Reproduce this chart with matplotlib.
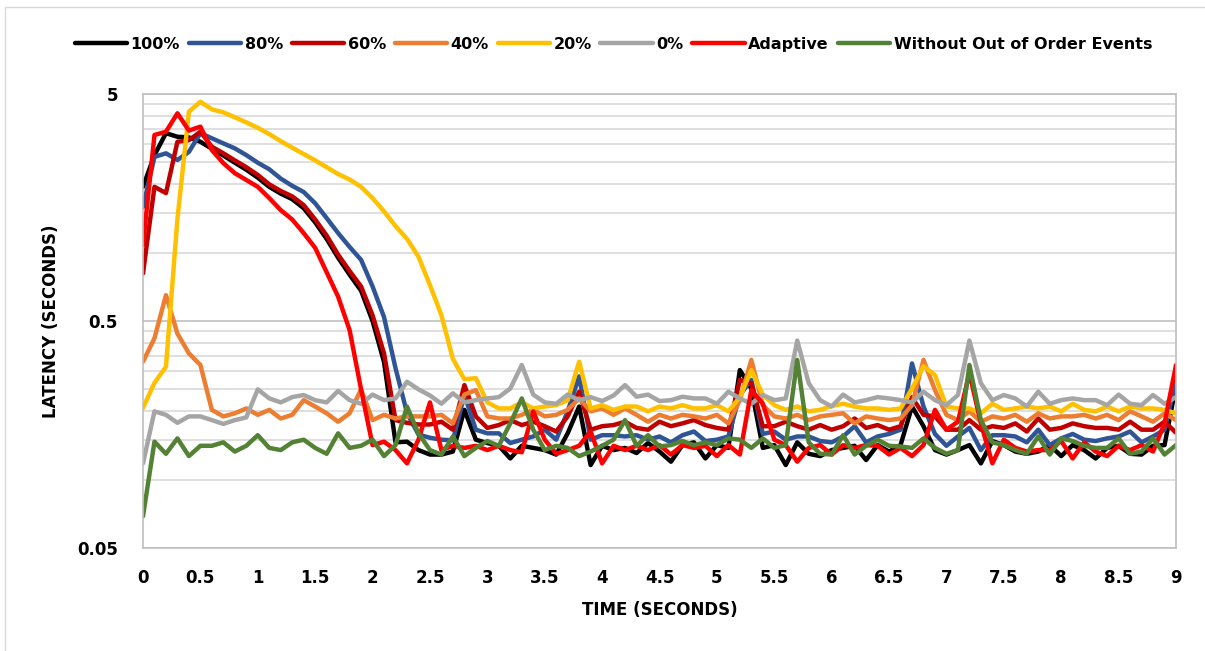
import numpy as np
import matplotlib
matplotlib.use("Agg")
import matplotlib.pyplot as plt
from matplotlib.ticker import FixedLocator, NullFormatter
from matplotlib.patches import Rectangle

plt.rcParams['font.family'] = ['Liberation Sans Narrow', 'DejaVu Sans']
plt.rcParams['font.weight'] = 'bold'

# time axis, one sample every 0.1 s
time_s = np.round(np.arange(0, 91) * 0.1, 1)

lat_100 = [1.95, 2.69, 3.36, 3.24, 3.22, 3.08, 2.87, 2.68, 2.49, 2.32, 2.14, 1.95, 1.82, 1.72, 1.57, 1.36, 1.15, 0.95, 0.8, 0.68,
           0.5, 0.33, 0.146, 0.147, 0.135, 0.129, 0.129, 0.133, 0.203, 0.15, 0.145, 0.141, 0.124, 0.141, 0.138, 0.135, 0.129, 0.16, 0.21, 0.116,
           0.141, 0.135, 0.138, 0.131, 0.145, 0.133, 0.12, 0.142, 0.146, 0.124, 0.142, 0.138, 0.304, 0.252, 0.138, 0.142, 0.116, 0.146, 0.13, 0.127,
           0.135, 0.138, 0.141, 0.122, 0.142, 0.133, 0.142, 0.21, 0.172, 0.135, 0.129, 0.135, 0.142, 0.118, 0.148, 0.142, 0.133, 0.13, 0.133, 0.142,
           0.127, 0.142, 0.135, 0.124, 0.138, 0.141, 0.13, 0.129, 0.141, 0.142, 0.26]
lat_80 = [1.59, 2.64, 2.74, 2.56, 2.78, 3.36, 3.19, 3.03, 2.88, 2.69, 2.49, 2.33, 2.12, 1.97, 1.85, 1.65, 1.42, 1.22, 1.06, 0.93,
          0.71, 0.52, 0.31, 0.197, 0.158, 0.153, 0.15, 0.149, 0.236, 0.166, 0.16, 0.16, 0.145, 0.15, 0.155, 0.166, 0.15, 0.2, 0.285, 0.15,
          0.157, 0.157, 0.155, 0.157, 0.15, 0.155, 0.146, 0.157, 0.163, 0.148, 0.15, 0.155, 0.236, 0.275, 0.159, 0.163, 0.15, 0.155, 0.155, 0.148,
          0.146, 0.155, 0.172, 0.146, 0.155, 0.159, 0.166, 0.325, 0.21, 0.159, 0.141, 0.155, 0.169, 0.135, 0.157, 0.157, 0.155, 0.146, 0.166, 0.142,
          0.152, 0.159, 0.15, 0.148, 0.152, 0.155, 0.163, 0.146, 0.155, 0.166, 0.275]
lat_60 = [0.81, 1.95, 1.83, 3.08, 3.13, 3.41, 2.93, 2.74, 2.55, 2.38, 2.2, 2.0, 1.87, 1.77, 1.62, 1.4, 1.19, 0.98, 0.83, 0.71,
          0.53, 0.36, 0.183, 0.178, 0.175, 0.175, 0.18, 0.166, 0.261, 0.19, 0.169, 0.174, 0.183, 0.174, 0.18, 0.172, 0.163, 0.19, 0.244, 0.166,
          0.172, 0.174, 0.18, 0.169, 0.166, 0.18, 0.172, 0.177, 0.183, 0.174, 0.169, 0.166, 0.275, 0.266, 0.172, 0.172, 0.18, 0.172, 0.166, 0.174,
          0.166, 0.172, 0.186, 0.169, 0.174, 0.166, 0.172, 0.231, 0.193, 0.19, 0.166, 0.166, 0.183, 0.166, 0.172, 0.169, 0.177, 0.163, 0.186, 0.166,
          0.169, 0.177, 0.172, 0.169, 0.169, 0.166, 0.18, 0.166, 0.166, 0.18, 0.161]
lat_40 = [0.331, 0.42, 0.65, 0.44, 0.36, 0.32, 0.203, 0.19, 0.196, 0.206, 0.193, 0.203, 0.186, 0.193, 0.224, 0.21, 0.196, 0.18, 0.196, 0.25,
          0.183, 0.193, 0.186, 0.19, 0.19, 0.19, 0.193, 0.177, 0.237, 0.248, 0.19, 0.186, 0.186, 0.193, 0.203, 0.19, 0.193, 0.203, 0.228, 0.2,
          0.206, 0.193, 0.206, 0.193, 0.18, 0.193, 0.186, 0.193, 0.19, 0.186, 0.193, 0.177, 0.224, 0.337, 0.213, 0.19, 0.186, 0.193, 0.183, 0.19,
          0.193, 0.196, 0.177, 0.19, 0.186, 0.183, 0.186, 0.213, 0.337, 0.248, 0.193, 0.183, 0.2, 0.18, 0.19, 0.186, 0.193, 0.18, 0.196, 0.186,
          0.19, 0.19, 0.193, 0.186, 0.193, 0.183, 0.2, 0.19, 0.18, 0.196, 0.183]
lat_20 = [0.207, 0.267, 0.314, 1.41, 4.18, 4.62, 4.28, 4.15, 3.95, 3.75, 3.55, 3.33, 3.1, 2.9, 2.72, 2.55, 2.38, 2.22, 2.1, 1.95,
          1.74, 1.52, 1.31, 1.15, 0.96, 0.72, 0.53, 0.34, 0.277, 0.28, 0.219, 0.206, 0.206, 0.219, 0.206, 0.21, 0.213, 0.224, 0.331, 0.206,
          0.213, 0.203, 0.21, 0.21, 0.2, 0.21, 0.206, 0.213, 0.206, 0.206, 0.213, 0.2, 0.231, 0.304, 0.237, 0.213, 0.203, 0.21, 0.2, 0.203,
          0.211, 0.216, 0.21, 0.206, 0.206, 0.203, 0.206, 0.252, 0.316, 0.289, 0.21, 0.206, 0.206, 0.196, 0.216, 0.203, 0.206, 0.21, 0.206, 0.21,
          0.2, 0.216, 0.203, 0.2, 0.21, 0.2, 0.21, 0.206, 0.206, 0.203, 0.196]
lat_0 = [0.118, 0.2, 0.193, 0.178, 0.19, 0.19, 0.183, 0.176, 0.183, 0.188, 0.25, 0.228, 0.219, 0.231, 0.236, 0.224, 0.219, 0.246, 0.224, 0.216,
         0.237, 0.224, 0.228, 0.27, 0.25, 0.235, 0.216, 0.24, 0.219, 0.224, 0.228, 0.231, 0.252, 0.32, 0.237, 0.219, 0.216, 0.237, 0.224, 0.231,
         0.222, 0.235, 0.261, 0.232, 0.237, 0.222, 0.224, 0.232, 0.228, 0.228, 0.216, 0.244, 0.228, 0.216, 0.236, 0.224, 0.228, 0.41, 0.266, 0.224,
         0.21, 0.237, 0.219, 0.224, 0.231, 0.228, 0.224, 0.219, 0.244, 0.224, 0.213, 0.236, 0.41, 0.266, 0.224, 0.236, 0.228, 0.21, 0.244, 0.216,
         0.224, 0.228, 0.224, 0.224, 0.213, 0.237, 0.216, 0.213, 0.236, 0.216, 0.231]
lat_adaptive = [1.08, 3.3, 3.41, 4.11, 3.45, 3.59, 2.83, 2.48, 2.24, 2.09, 1.95, 1.74, 1.54, 1.4, 1.22, 1.05, 0.82, 0.64, 0.456, 0.25,
                0.142, 0.147, 0.135, 0.118, 0.15, 0.219, 0.135, 0.141, 0.138, 0.141, 0.135, 0.141, 0.135, 0.132, 0.2, 0.15, 0.13, 0.135, 0.141, 0.163,
                0.118, 0.141, 0.135, 0.141, 0.135, 0.142, 0.129, 0.142, 0.138, 0.141, 0.127, 0.142, 0.129, 0.248, 0.216, 0.15, 0.142, 0.12, 0.138, 0.142,
                0.129, 0.142, 0.138, 0.142, 0.141, 0.129, 0.138, 0.127, 0.142, 0.203, 0.166, 0.18, 0.295, 0.177, 0.118, 0.15, 0.138, 0.133, 0.135, 0.135,
                0.148, 0.124, 0.146, 0.133, 0.127, 0.141, 0.135, 0.142, 0.133, 0.177, 0.32]
lat_no_ooo = [0.069, 0.147, 0.13, 0.152, 0.127, 0.141, 0.141, 0.146, 0.133, 0.141, 0.157, 0.138, 0.135, 0.146, 0.15, 0.138, 0.13, 0.16, 0.138, 0.141,
              0.15, 0.127, 0.142, 0.21, 0.16, 0.135, 0.129, 0.155, 0.127, 0.138, 0.148, 0.141, 0.177, 0.228, 0.166, 0.135, 0.141, 0.138, 0.127, 0.133,
              0.141, 0.15, 0.183, 0.141, 0.157, 0.14, 0.142, 0.148, 0.142, 0.146, 0.142, 0.152, 0.15, 0.138, 0.152, 0.138, 0.142, 0.337, 0.146, 0.13,
              0.129, 0.157, 0.129, 0.141, 0.15, 0.141, 0.14, 0.138, 0.152, 0.138, 0.13, 0.135, 0.32, 0.183, 0.146, 0.142, 0.135, 0.13, 0.155, 0.129,
              0.152, 0.148, 0.141, 0.138, 0.138, 0.152, 0.13, 0.133, 0.152, 0.129, 0.142]

series_names = ['100%', '80%', '60%', '40%', '20%', '0%', 'Adaptive', 'Without Out of Order Events']
series_vals = [lat_100, lat_80, lat_60, lat_40, lat_20, lat_0, lat_adaptive, lat_no_ooo]
colors = ['#000000', '#2F5597', '#C00000', '#ED7D31', '#FFC000', '#A5A5A5', '#FF0000', '#548235']

x_ticks = np.arange(0, 9.01, 0.5)
x_tick_labels = ['0', '0.5', '1', '1.5', '2', '2.5', '3', '3.5', '4', '4.5', '5', '5.5', '6', '6.5', '7', '7.5', '8', '8.5', '9']
y_major = [0.05, 0.5, 5]
y_major_labels = ['0.05', '0.5', '5']
y_minor = [0.1, 0.15, 0.2, 0.25, 0.3, 0.35, 0.4, 0.45, 1, 1.5, 2, 2.5, 3, 3.5, 4, 4.5]

fig = plt.figure(figsize=(12.05, 6.51), dpi=100)
ax = fig.add_axes([143/1205, 1-548/651, (1176-143)/1205, (548-94)/651])

for name, vals, c in zip(series_names, series_vals, colors):
    ax.plot(time_s, vals, color=c, lw=3.2, label=name, solid_joinstyle='round', solid_capstyle='round')

ax.set_yscale('log')
ax.set_ylim(0.05, 5)
ax.set_xlim(0, 9)
ax.yaxis.set_major_locator(FixedLocator(y_major))
ax.set_yticklabels(y_major_labels)
ax.yaxis.set_minor_locator(FixedLocator(y_minor))
ax.yaxis.set_minor_formatter(NullFormatter())
ax.set_xticks(x_ticks)
ax.set_xticklabels(x_tick_labels)
ax.tick_params(axis='both', which='both', length=0, labelsize=12)
ax.tick_params(axis='x', pad=15)
ax.tick_params(axis='y', pad=18)

ax.grid(True, which='major', axis='y', color='#BFBFBF', lw=1.2)
ax.grid(True, which='minor', axis='y', color='#D9D9D9', lw=1.2)
ax.set_axisbelow(True)
for s in ax.spines.values():
    s.set_color('#BFBFBF')
    s.set_linewidth(1.2)

ax.set_xlabel('TIME (SECONDS)', fontsize=12, fontweight='bold', labelpad=10)
ax.set_ylabel('LATENCY (SECONDS)', fontsize=12, fontweight='bold', labelpad=12)

fig.legend(loc='center', bbox_to_anchor=(0.509, 0.932), ncol=8, frameon=False,
           fontsize=11.5, handlelength=3.3, handletextpad=0.2, columnspacing=0.55)

# chart outer border
fig.add_artist(Rectangle((5/1205, -0.1), 1.2, 1.1 - 7/651, transform=fig.transFigure,
                         fill=False, edgecolor='#D9D9D9', lw=1))

fig.savefig('out.png', dpi=100)
